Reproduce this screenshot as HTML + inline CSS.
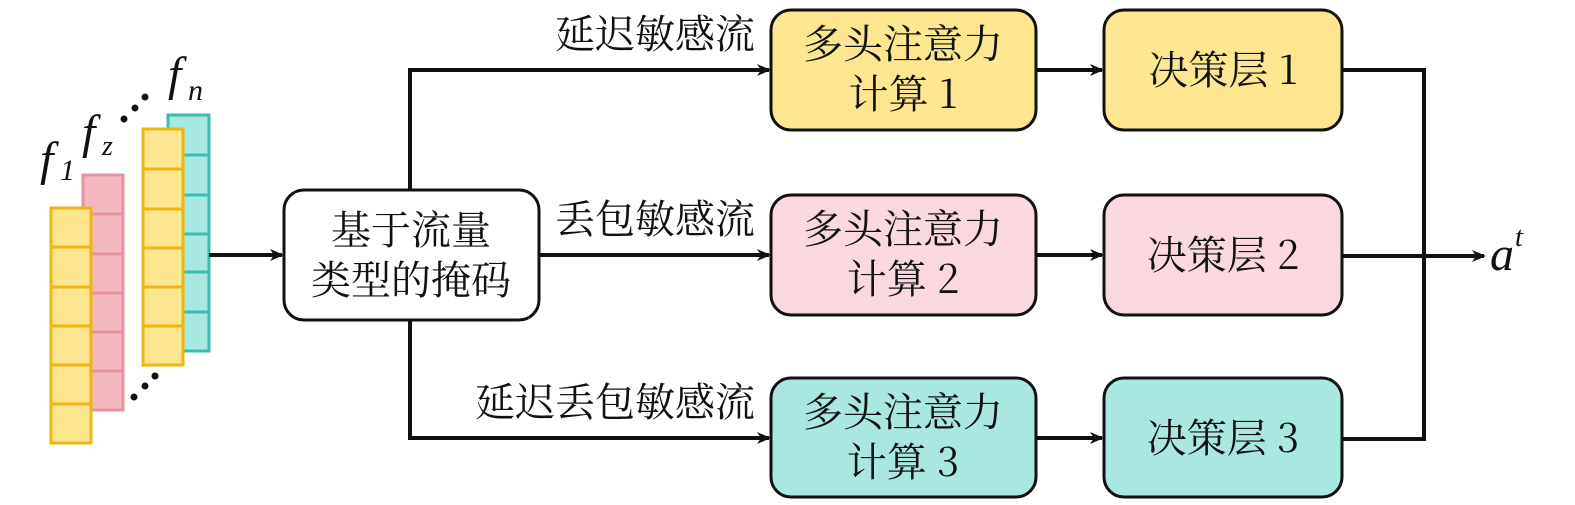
<!DOCTYPE html>
<html><head><meta charset="utf-8"><style>
html,body{margin:0;padding:0;background:#fff;}
svg{display:block;}
.t{font-family:"Noto Serif CJK SC","Liberation Serif",serif;font-size:40px;fill:#111;}
.m{font-family:"Liberation Serif",serif;font-style:italic;fill:#111;}
</style></head><body>
<svg width="1575" height="505" viewBox="0 0 1575 505" xmlns="http://www.w3.org/2000/svg">
<defs>
<marker id="ar" markerWidth="14" markerHeight="14" refX="12" refY="7" orient="auto" markerUnits="userSpaceOnUse">
<path d="M0,1 L14,7 L0,13 L4,7 z" fill="#111"/></marker>
</defs>
<g stroke="#e8929f" stroke-width="3" fill="#f4b8c0">
<rect x="83" y="175" width="40" height="235"/>
<line x1="83" y1="214" x2="123" y2="214"/><line x1="83" y1="254" x2="123" y2="254"/><line x1="83" y1="293" x2="123" y2="293"/><line x1="83" y1="332" x2="123" y2="332"/><line x1="83" y1="371" x2="123" y2="371"/>
</g>
<g stroke="#eeb60f" stroke-width="3" fill="#fde68f">
<rect x="51" y="208" width="40" height="235"/>
<line x1="51" y1="247" x2="91" y2="247"/><line x1="51" y1="287" x2="91" y2="287"/><line x1="51" y1="326" x2="91" y2="326"/><line x1="51" y1="365" x2="91" y2="365"/><line x1="51" y1="404" x2="91" y2="404"/>
</g>
<g stroke="#3dbdb0" stroke-width="3" fill="#a8e8e1">
<rect x="168" y="115" width="41" height="236"/>
<line x1="168" y1="155" x2="209" y2="155"/><line x1="168" y1="195" x2="209" y2="195"/><line x1="168" y1="234" x2="209" y2="234"/><line x1="168" y1="272" x2="209" y2="272"/><line x1="168" y1="312" x2="209" y2="312"/>
</g>
<g stroke="#eeb60f" stroke-width="3" fill="#fde68f">
<rect x="143" y="129" width="40" height="236"/>
<line x1="143" y1="169" x2="183" y2="169"/><line x1="143" y1="209" x2="183" y2="209"/><line x1="143" y1="248" x2="183" y2="248"/><line x1="143" y1="287" x2="183" y2="287"/><line x1="143" y1="326" x2="183" y2="326"/>
</g>
<g fill="#111">
<circle cx="124" cy="119" r="3.5"/><circle cx="135" cy="108" r="3.5"/><circle cx="145" cy="97" r="3.5"/>
<circle cx="134" cy="397" r="3.5"/><circle cx="145" cy="386" r="3.5"/><circle cx="155" cy="376" r="3.5"/>
</g>
<text class="m" x="40" y="175" font-size="48">f</text><text class="m" x="60" y="180" font-size="30" font-style="normal">1</text>
<text class="m" x="82" y="148" font-size="48">f</text><text class="m" x="102" y="155" font-size="28">z</text>
<text class="m" x="168" y="90" font-size="48">f</text><text class="m" x="188" y="100" font-size="30">n</text>
<g stroke="#111" stroke-width="4" fill="none">
<line x1="209" y1="255" x2="282" y2="255" marker-end="url(#ar)"/>
<line x1="539" y1="255" x2="769" y2="255" marker-end="url(#ar)"/>
<polyline points="410,190 410,70 769,70" marker-end="url(#ar)"/>
<polyline points="410,320 410,438 769,438" marker-end="url(#ar)"/>
<line x1="1036" y1="70" x2="1102" y2="70" marker-end="url(#ar)"/>
<line x1="1036" y1="255" x2="1102" y2="255" marker-end="url(#ar)"/>
<line x1="1036" y1="438" x2="1102" y2="438" marker-end="url(#ar)"/>
<polyline points="1342,70 1424,70 1424,439 1342,439"/>
<line x1="1342" y1="256" x2="1484" y2="256" marker-end="url(#ar)"/>
</g>
<g stroke="#111" stroke-width="3">
<rect x="284" y="190" width="255" height="130" rx="20" fill="#fff"/>
<rect x="771" y="10" width="265" height="120" rx="20" fill="#fde68f"/>
<rect x="771" y="195" width="265" height="120" rx="20" fill="#f9d9df"/>
<rect x="771" y="378" width="265" height="119" rx="20" fill="#a8e8e1"/>
<rect x="1104" y="10" width="238" height="120" rx="20" fill="#fde68f"/>
<rect x="1104" y="195" width="238" height="120" rx="20" fill="#f9d9df"/>
<rect x="1104" y="378" width="238" height="119" rx="20" fill="#a8e8e1"/>
</g>
<g class="t" text-anchor="middle">
<text x="411" y="244">基于流量</text><text x="411" y="294">类型的掩码</text>
<text x="903" y="58">多头注意力</text><text x="903" y="108">计算 1</text>
<text x="903" y="243">多头注意力</text><text x="903" y="293">计算 2</text>
<text x="903" y="426">多头注意力</text><text x="903" y="476">计算 3</text>
<text x="1223" y="84">决策层 1</text>
<text x="1223" y="269">决策层 2</text>
<text x="1223" y="452">决策层 3</text>
</g>
<g class="t" text-anchor="end">
<text x="755" y="48">延迟敏感流</text>
<text x="755" y="233">丢包敏感流</text>
<text x="755" y="416">延迟丢包敏感流</text>
</g>
<text class="m" x="1490" y="270" font-size="48">a</text><text class="m" x="1515" y="246" font-size="28">t</text>
</svg>
</body></html>
